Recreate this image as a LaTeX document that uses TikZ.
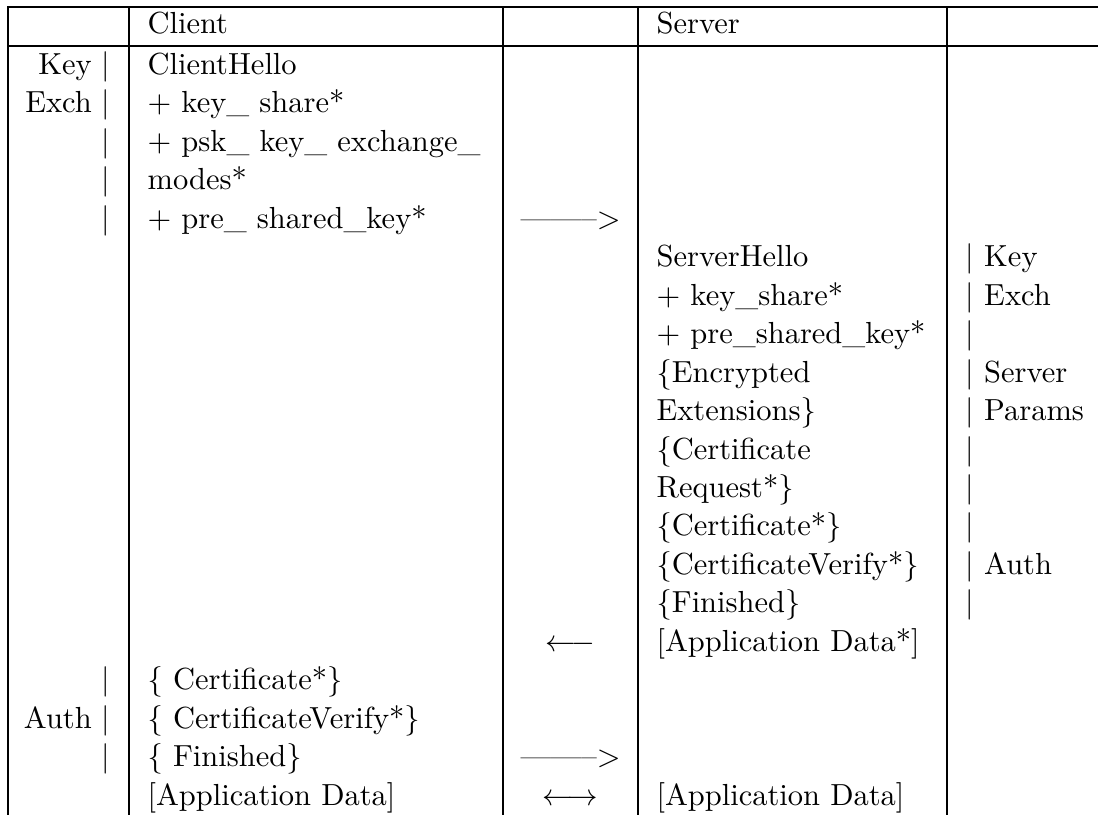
\documentclass[tikz,border=0pt]{standalone}
\begin{document}
\def\ry#1{74.5+38.45*#1}
\begin{tikzpicture}[x=0.328pt,y=-0.328pt,
  rule/.style={line width=0.4pt, line cap=rect},
  lc/.style={inner sep=0pt, anchor=base west, font=\fontsize{10}{12}\selectfont},
  rc/.style={inner sep=0pt, anchor=base east, font=\fontsize{10}{12}\selectfont},
  cc/.style={inner sep=0pt, anchor=base, font=\fontsize{10}{12}\selectfont}]
\useasboundingbox (0,0) rectangle (1098,814);
% table rules
\draw[rule] (8,7) -- (1098,7);
\draw[rule] (8,46) -- (1098,46);
\foreach \xx in {8,129,503,638,947} \draw[rule] (\xx,7) -- (\xx,814);
% header
\node[lc] (hc) at (147,33) {Client};
\node[lc] (hs) at (656,33) {Server};
% column 1
\node[rc] (l0) at (111,{\ry{0}}) {Key $|$};
\node[rc] (l1) at (111,{\ry{1}}) {Exch $|$};
\node[rc] (l2) at (111,{\ry{2}}) {$|$};
\node[rc] (l3) at (111,{\ry{3}}) {$|$};
\node[rc] (l4) at (111,{\ry{4}}) {$|$};
\node[rc] (l16) at (111,{\ry{16}}) {$|$};
\node[rc] (l17) at (111,{\ry{17}}) {Auth $|$};
\node[rc] (l18) at (111,{\ry{18}}) {$|$};
% column 2 (client)
\node[lc] (c0) at (147,{\ry{0}}) {ClientHello};
\node[lc] (c1) at (147,{\ry{1}}) {+ key\_ share*};
\node[lc] (c2) at (147,{\ry{2}}) {+ psk\_ key\_ exchange\_};
\node[lc] (c3) at (147,{\ry{3}}) {modes*};
\node[lc] (c4) at (147,{\ry{4}}) {+ pre\_ shared\_key*};
\node[lc] (c16) at (147,{\ry{16}}) {\{ Certificate*\}};
\node[lc] (c17) at (147,{\ry{17}}) {\{ CertificateVerify*\}};
\node[lc] (c18) at (147,{\ry{18}}) {\{ Finished\}};
\node[lc] (c19) at (147,{\ry{19}}) {[Application Data]};
% column 3 (arrows)
\node[cc] (a4) at (570.5,{\ry{4}}) {\textemdash\textemdash\textendash>};
\node[cc] (a15) at (570.5,{\ry{15}}) {$\longleftarrow$};
\node[cc] (a18) at (570.5,{\ry{18}}) {\textemdash\textemdash\textendash>};
\node[cc] (a19) at (570.5,{\ry{19}}) {$\longleftrightarrow$};
% column 4 (server)
\node[lc] (s5) at (656,{\ry{5}}) {ServerHello};
\node[lc] (s6) at (656,{\ry{6}}) {+ key\_share*};
\node[lc] (s7) at (656,{\ry{7}}) {+ pre\_shared\_key*};
\node[lc] (s8) at (656,{\ry{8}}) {\{Encrypted};
\node[lc] (s9) at (656,{\ry{9}}) {Extensions\}};
\node[lc] (s10) at (656,{\ry{10}}) {\{Certificate};
\node[lc] (s11) at (656,{\ry{11}}) {Request*\}};
\node[lc] (s12) at (656,{\ry{12}}) {\{Certificate*\}};
\node[lc] (s13) at (656,{\ry{13}}) {\{CertificateVerify*\}};
\node[lc] (s14) at (656,{\ry{14}}) {\{Finished\}};
\node[lc] (s15) at (656,{\ry{15}}) {[Application Data*]};
\node[lc] (s19) at (656,{\ry{19}}) {[Application Data]};
% column 5
\node[lc] (r5) at (965,{\ry{5}}) {$|$ Key};
\node[lc] (r6) at (965,{\ry{6}}) {$|$ Exch};
\node[lc] (r7) at (965,{\ry{7}}) {$|$};
\node[lc] (r8) at (965,{\ry{8}}) {$|$ Server};
\node[lc] (r9) at (965,{\ry{9}}) {$|$ Params};
\node[lc] (r10) at (965,{\ry{10}}) {$|$};
\node[lc] (r11) at (965,{\ry{11}}) {$|$};
\node[lc] (r12) at (965,{\ry{12}}) {$|$};
\node[lc] (r13) at (965,{\ry{13}}) {$|$ Auth};
\node[lc] (r14) at (965,{\ry{14}}) {$|$};
\end{tikzpicture}
\end{document}
